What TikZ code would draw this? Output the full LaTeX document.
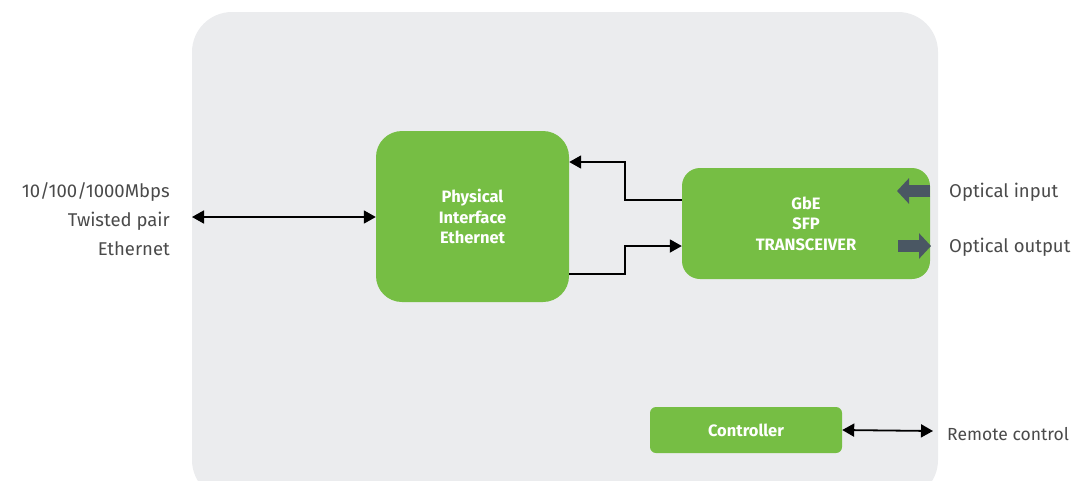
\documentclass[tikz,border=0pt]{standalone}
\usepackage{fontspec}
\setmainfont{Fira Sans}
\usetikzlibrary{arrows.meta}
\definecolor{panel}{HTML}{EBECEE}
\definecolor{grn}{HTML}{76BE44}
\definecolor{txt}{HTML}{4A4A4A}
\definecolor{optic}{HTML}{4A5763}
\tikzset{
  block/.style={fill=grn, draw=none, text=white, font=\bfseries\fontsize{16.5}{20.5}\selectfont, align=center, inner sep=0pt},
  lbl/.style={text=txt, font=\fontsize{18.5}{29}\selectfont, inner sep=0pt},
  conn/.style={line width=1.8pt, draw=black},
  both/.style={conn, {Triangle[length=12pt,width=13pt]}-{Triangle[length=12pt,width=13pt]}},
  one/.style={conn, -{Triangle[length=12pt,width=13pt]}},
  optarrow/.style={draw=optic, line width=12pt, -{Triangle[length=12pt,width=25pt]}}
}
\begin{document}
\begin{tikzpicture}[x=1pt,y=-1pt]
\useasboundingbox (0,0) rectangle (1073,480);
\fill[panel, rounded corners=40pt] (192,12) rectangle (938,500);
\node[block, rounded corners=26pt, minimum width=193pt, minimum height=171pt] (phy) at (472.5,216.5) {Physical\\Interface\\Ethernet};
\node[block, rounded corners=18pt, minimum width=248pt, minimum height=111pt] (sfp) at (806,223.5) {GbE\\SFP\\TRANSCEIVER};
\node[block, rounded corners=6pt, minimum width=192pt, minimum height=46pt] (ctl) at (746,430) {Controller};
\node[lbl, anchor=east, align=right] (eth) at (170,219) {10/100/1000Mbps\\Twisted pair\\Ethernet};
\node[lbl, anchor=west] (oin) at (949,192) {Optical input};
\node[lbl, anchor=west] (oout) at (949,247) {Optical output};
\node[lbl, anchor=west, font=\fontsize{17.5}{29}\selectfont] (rc) at (947,434) {Remote control};
\coordinate (ethend) at (192,217);
\coordinate (rcend) at (933,431);
\draw[both] (ethend) -- (phy.west |- ethend);
\draw[one] (sfp.west |- 0,200) -- (625,200) -- (625,162) -- (phy.east |- 0,162);
\draw[one] (phy.east |- 0,274) -- (625,274) -- (625,246) -- (sfp.west |- 0,246);
\draw[both] (ctl.east) -- (rcend);
\coordinate (oinA) at (930,191);
\coordinate (oinB) at (897,191);
\coordinate (ooutA) at (898,246);
\coordinate (ooutB) at (931,246);
\draw[optarrow] (oinA) -- (oinB);
\draw[optarrow] (ooutA) -- (ooutB);
\end{tikzpicture}
\end{document}
